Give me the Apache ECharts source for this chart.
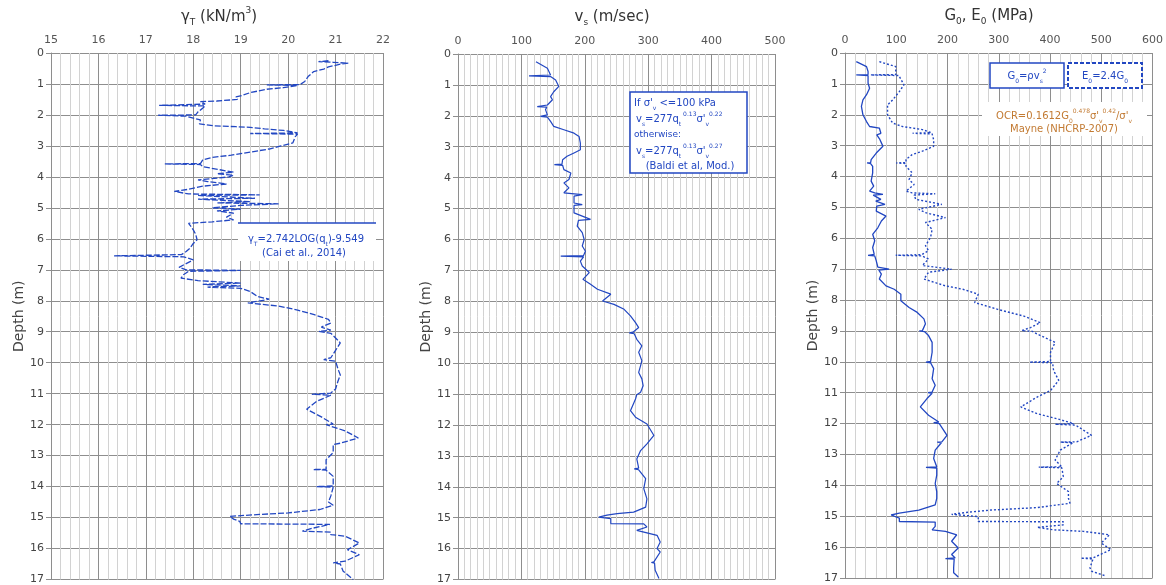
<!DOCTYPE html>
<html>
<head>
<meta charset="utf-8">
<script src="https://cdn.jsdelivr.net/npm/echarts@6/dist/echarts.min.js"></script>
<style>
  html, body { margin: 0; padding: 0; background: #fff; }
  #chart { width: 1166px; height: 585px; }
</style>
</head>
<body>
<div id="chart"></div>
<script>
// CPT-derived profiles: unit weight, shear-wave velocity and small-strain moduli versus depth

// Unit weight, gammaT (kN/m3)
const gammaDepth = [0.25,0.28,0.30,0.33,0.36,0.45,0.52,0.60,0.76,0.92,1.02,1.03,1.05,1.12,1.17,1.28,1.36,1.42,1.50,1.55,1.57,1.65,1.69,1.71,1.78,1.90,2.00,2.01,2.04,2.10,2.16,2.29,2.35,2.38,2.40,2.45,2.50,2.58,2.60,2.62,2.70,2.90,3.00,3.10,3.20,3.30,3.37,3.45,3.57,3.58,3.60,3.67,3.77,3.85,3.90,3.95,4.00,4.10,4.15,4.23,4.30,4.40,4.47,4.55,4.58,4.60,4.69,4.72,4.80,4.84,4.87,4.92,5.00,5.04,5.10,5.17,5.30,5.39,5.45,5.50,5.60,5.71,5.85,6.03,6.15,6.30,6.41,6.51,6.55,6.58,6.68,6.80,6.92,7.00,7.02,7.05,7.15,7.27,7.35,7.43,7.47,7.52,7.56,7.60,7.70,7.86,7.95,8.07,8.17,8.30,8.45,8.60,8.72,8.85,8.95,8.99,9.05,9.20,9.36,9.60,9.84,9.90,9.95,10.20,10.40,10.60,10.85,10.98,11.02,11.05,11.25,11.50,11.75,11.98,12.00,12.20,12.43,12.60,12.64,12.90,13.13,13.44,13.45,13.47,13.67,13.98,14.00,14.02,14.30,14.50,14.60,14.74,14.85,14.90,14.96,15.05,15.12,15.20,15.22,15.35,15.44,15.47,15.55,15.60,15.82,16.04,16.20,16.41,16.46,16.50,16.73,17.00];
const gammaVal = [20.85,20.64,20.95,21.27,21.10,20.85,20.75,20.54,20.42,20.35,20.25,19.55,20.20,19.90,19.55,19.20,19.05,18.90,18.93,18.50,18.15,18.25,17.28,18.25,18.20,18.10,18.05,17.26,17.85,18.00,18.15,18.13,18.42,18.90,19.20,19.50,19.90,20.20,19.20,20.20,20.15,20.10,19.85,19.60,19.20,18.80,18.40,18.20,18.15,17.40,18.15,18.20,18.56,18.85,18.50,18.85,18.75,18.10,18.30,18.70,18.20,17.90,17.60,17.90,19.40,18.10,19.30,18.10,19.20,18.50,19.80,19.00,18.40,19.00,18.50,18.85,18.70,18.85,18.40,17.90,17.95,18.00,18.05,18.08,18.00,17.93,17.85,17.75,16.33,17.80,18.00,17.85,17.70,17.85,19.00,17.90,17.80,17.74,18.10,19.00,18.20,19.00,18.30,19.00,19.20,19.35,19.60,19.15,19.80,20.20,20.55,20.85,20.90,20.70,20.90,20.65,20.90,21.00,21.10,21.00,20.90,20.75,21.00,21.05,21.10,21.05,21.00,20.90,20.50,20.90,20.60,20.39,20.70,20.95,20.80,21.20,21.48,21.10,20.95,20.95,20.80,20.80,20.53,20.80,20.95,20.95,20.60,20.95,20.90,20.85,20.95,20.67,20.00,19.40,18.77,18.85,18.98,19.00,20.88,20.50,20.30,20.90,20.90,21.20,21.50,21.25,21.50,21.20,20.95,21.10,21.16,21.37];

// Shear-wave velocity, vs (m/sec)
const vsDepth = [0.25,0.46,0.68,0.71,0.73,0.84,1.05,1.22,1.38,1.48,1.65,1.70,1.72,1.80,1.97,2.02,2.04,2.18,2.34,2.45,2.56,2.67,2.88,3.10,3.20,3.31,3.42,3.56,3.58,3.60,3.74,3.85,4.06,4.17,4.33,4.39,4.49,4.55,4.60,4.66,4.82,4.87,4.90,5.14,5.35,5.38,5.57,5.78,6.00,6.21,6.38,6.52,6.54,6.56,6.70,6.86,7.07,7.29,7.45,7.61,7.77,7.99,8.10,8.26,8.47,8.69,8.85,9.00,9.02,9.05,9.23,9.44,9.65,9.92,10.08,10.30,10.51,10.73,10.94,11.02,11.16,11.54,11.75,11.97,12.34,12.61,12.83,13.10,13.40,13.42,13.45,13.74,14.06,14.39,14.66,14.82,14.87,14.92,14.98,15.03,15.19,15.20,15.30,15.41,15.45,15.57,15.79,16.00,16.11,16.43,16.45,16.47,16.70,16.97];
const vsVal = [123,141,146,112,146,154,159,151,146,149,141,125,140,138,141,130,141,146,151,167,183,191,193,193,183,172,165,164,152,165,167,178,175,167,175,172,167,196,183,183,183,196,183,183,209,190,188,196,199,196,201,198,162,198,193,196,207,197,209,220,241,228,246,262,272,280,285,276,270,278,282,290,285,290,288,285,290,292,288,282,280,272,280,298,309,298,288,282,285,278,285,296,293,298,296,277,251,235,222,241,241,293,298,282,290,314,319,314,319,309,305,310,311,317];

// Small-strain shear modulus, G0 (MPa)
const g0Depth = [0.28,0.44,0.60,0.70,0.71,0.73,0.98,1.14,1.35,1.52,1.73,2.00,2.22,2.38,2.43,2.60,2.65,2.80,2.91,3.02,3.24,3.45,3.55,3.56,3.58,3.67,3.88,4.15,4.31,4.47,4.53,4.58,4.60,4.74,4.80,4.90,4.96,5.12,5.28,5.44,5.66,5.87,6.08,6.30,6.52,6.55,6.57,6.73,6.93,7.00,7.03,7.16,7.32,7.54,7.65,7.81,8.02,8.24,8.40,8.61,8.77,8.99,9.00,9.02,9.15,9.37,9.69,9.99,10.01,10.03,10.22,10.55,10.76,10.98,11.00,11.02,11.19,11.46,11.73,11.95,11.97,12.00,12.38,12.59,12.60,12.62,12.86,13.13,13.40,13.42,13.44,13.67,13.94,14.20,14.42,14.63,14.80,14.90,14.96,15.06,15.17,15.19,15.33,15.44,15.49,15.60,15.81,16.03,16.24,16.35,16.37,16.39,16.67,16.83,16.97];
const g0Val = [22,42,45,45,22,45,45,48,42,35,32,35,42,48,67,70,62,68,71,74,61,51,50,43,50,54,54,51,56,48,58,74,55,70,60,78,62,61,80,71,64,54,58,54,57,45,58,61,64,86,66,71,67,80,96,109,109,125,141,154,157,151,145,155,163,170,170,167,158,167,173,170,176,170,162,170,160,147,163,183,173,184,199,189,180,188,176,173,179,158,179,179,176,179,179,176,144,106,90,106,106,176,176,170,196,218,208,221,208,215,196,213,212,212,221];

// Small-strain Young's modulus, E0 (MPa)
const e0Depth = [0.28,0.44,0.70,0.71,0.73,1.03,1.25,1.52,1.68,2.00,2.27,2.38,2.48,2.58,2.60,2.62,2.81,3.02,3.18,3.29,3.45,3.55,3.56,3.58,3.67,3.88,4.10,4.26,4.47,4.53,4.56,4.60,4.74,4.90,5.06,5.17,5.33,5.49,5.71,5.97,6.24,6.40,6.53,6.55,6.57,6.67,6.88,7.00,7.10,7.32,7.54,7.65,7.81,8.08,8.30,8.52,8.73,8.89,8.99,9.01,9.10,9.37,9.69,9.99,10.01,10.03,10.28,10.60,10.93,11.14,11.46,11.68,11.84,12.00,12.02,12.05,12.38,12.59,12.60,12.62,12.86,13.18,13.40,13.41,13.43,13.72,13.94,14.20,14.42,14.58,14.72,14.80,14.87,14.94,15.01,15.17,15.18,15.28,15.36,15.44,15.49,15.60,15.87,16.08,16.35,16.36,16.38,16.67,16.78,16.94];
const e0Val = [67,99,99,50,105,115,106,93,83,83,93,112,151,168,132,170,173,173,151,131,119,119,100,119,119,131,125,135,119,131,176,135,138,189,144,157,196,157,170,167,157,163,150,99,150,163,151,208,163,154,196,230,260,253,298,349,381,362,345,365,375,410,401,401,360,405,407,417,401,375,343,375,413,446,410,450,481,452,420,445,420,410,423,378,423,426,413,436,436,439,375,285,240,208,260,260,426,426,375,407,465,516,500,519,484,460,484,478,481,510];

// Axis ranges and tick steps for the three panels
const gammaAxis = { min: 15, max: 22, step: 1, minor: 5 };
const vsAxis = { min: 0, max: 500, step: 100, minor: 10 };
const modAxis = { min: 0, max: 600, step: 100, minor: 5 };
const depthAxis = { min: 0, max: 17, step: 1 };

const pairs = (vals, depths) => vals.map((v, i) => [v, depths[i]]);

const FONT = 'DejaVu Sans';
const BLUE = '#2247c2';
const MAJOR = '#8e8e8e';
const MINOR = '#d2d2d2';
const OCR_COLOR = '#c27a32';

const grids = [
  { left: 51, top: 53, width: 332, height: 527 },
  { left: 458, top: 54, width: 317, height: 526 },
  { left: 845, top: 53, width: 312, height: 525 }
];

function makeX(idx, ax) {
  return {
    type: 'value', gridIndex: idx, position: 'top',
    min: ax.min, max: ax.max, interval: ax.step,
    axisLine: { show: false },
    axisTick: { show: false },
    axisLabel: { fontFamily: FONT, fontSize: 11, color: '#555', margin: 7 },
    splitLine: { show: true, lineStyle: { color: MAJOR, width: 1 } },
    minorTick: { show: false, splitNumber: ax.minor },
    minorSplitLine: { show: true, lineStyle: { color: MINOR, width: 1 } }
  };
}

function makeY(idx, gap) {
  return {
    type: 'value', gridIndex: idx, inverse: true,
    min: depthAxis.min, max: depthAxis.max, interval: depthAxis.step,
    name: 'Depth (m)', nameLocation: 'middle', nameGap: gap,
    nameTextStyle: { fontFamily: FONT, fontSize: 14, color: '#444' },
    axisLine: { show: true, lineStyle: { color: MAJOR } },
    axisTick: { show: true, length: 5, lineStyle: { color: MAJOR } },
    axisLabel: { fontFamily: FONT, fontSize: 11, color: '#444', margin: 7 },
    splitLine: { show: true, lineStyle: { color: MAJOR, width: 1 } }
  };
}

// rich-text styles for sub/superscripts
function richSet(size, color) {
  const small = Math.round(size * 0.62);
  return {
    n: { fontFamily: FONT, fontSize: size, color: color, lineHeight: size + 6 },
    s: { fontFamily: FONT, fontSize: small, color: color, lineHeight: small + 1, verticalAlign: 'bottom' },
    p: { fontFamily: FONT, fontSize: small, color: color, lineHeight: small + 1, verticalAlign: 'top' }
  };
}

function txt(x, y, text, size, color, align) {
  return {
    type: 'text', z: 100,
    style: {
      x: x, y: y, text: text, rich: richSet(size, color),
      fontFamily: FONT, fontSize: size, fill: color,
      align: align || 'center', verticalAlign: 'middle'
    }
  };
}

const chart = echarts.init(document.getElementById('chart'), null, { renderer: 'canvas' });

chart.setOption({
  animation: false,
  backgroundColor: '#ffffff',
  grid: grids,
  xAxis: [makeX(0, gammaAxis), makeX(1, vsAxis), makeX(2, modAxis)],
  yAxis: [makeY(0, 25), makeY(1, 22), makeY(2, 25)],
  series: [
    {
      name: 'gammaT', type: 'line', xAxisIndex: 0, yAxisIndex: 0,
      data: pairs(gammaVal, gammaDepth), showSymbol: false,
      lineStyle: { color: BLUE, width: 1.3, type: [6, 2] }
    },
    {
      name: 'vs', type: 'line', xAxisIndex: 1, yAxisIndex: 1,
      data: pairs(vsVal, vsDepth), showSymbol: false,
      lineStyle: { color: BLUE, width: 1.2 }
    },
    {
      name: 'G0', type: 'line', xAxisIndex: 2, yAxisIndex: 2,
      data: pairs(g0Val, g0Depth), showSymbol: false,
      lineStyle: { color: BLUE, width: 1.3 }
    },
    {
      name: 'E0', type: 'line', xAxisIndex: 2, yAxisIndex: 2,
      data: pairs(e0Val, e0Depth), showSymbol: false,
      lineStyle: { color: BLUE, width: 1.4, type: [2, 2] }
    }
  ],
  graphic: [
    // panel titles
    txt(219, 17, '{n|γ}{s|T}{n| (kN/m}{p|3}{n|)}', 15, '#333'),
    txt(612, 17, '{n|v}{s|s}{n| (m/sec)}', 15, '#333'),
    txt(989, 16, '{n|G}{s|0}{n|, E}{s|0}{n| (MPa)}', 15, '#333'),

    // unit-weight correlation note
    { type: 'rect', z: 99, shape: { x: 238, y: 223, width: 138, height: 38 }, style: { fill: '#fff' } },
    { type: 'line', z: 100, shape: { x1: 238, y1: 223, x2: 376, y2: 223 }, style: { stroke: BLUE, lineWidth: 1.5 } },
    txt(306, 239, '{n|γ}{s|T}{n|=2.742LOG(q}{s|t}{n|)-9.549}', 10, BLUE),
    txt(304, 253, '{n|(Cai et al., 2014)}', 10, BLUE),

    // shear-wave velocity correlation box
    { type: 'rect', z: 99, shape: { x: 630, y: 92, width: 117, height: 81 }, style: { fill: '#fff', stroke: BLUE, lineWidth: 1.5 } },
    txt(634, 103, "{n|If σ'}{s|v}{n| <=100 kPa}", 10, BLUE, 'left'),
    txt(636, 119, "{n|v}{s|s}{n|=277q}{s|t}{p| 0.13}{n|σ'}{s|v}{p|0.22}", 10, BLUE, 'left'),
    txt(634, 135, '{n|otherwise:}', 9, BLUE, 'left'),
    txt(636, 151, "{n|v}{s|s}{n|=277q}{s|t}{p| 0.13}{n|σ'}{s|v}{p|0.27}", 10, BLUE, 'left'),
    txt(690, 166, '{n|(Baldi et al, Mod.)}', 10, BLUE),

    // modulus legend
    { type: 'rect', z: 99, shape: { x: 990, y: 63, width: 74, height: 25 }, style: { fill: '#fff', stroke: BLUE, lineWidth: 1.5 } },
    { type: 'rect', z: 99, shape: { x: 1068, y: 63, width: 74, height: 25 }, style: { fill: '#fff', stroke: BLUE, lineWidth: 2, lineDash: [4, 2] } },
    txt(1027, 76, '{n|G}{s|0}{n|=ρv}{s|s}{p|2}', 10, BLUE),
    txt(1105, 76, '{n|E}{s|0}{n|=2.4G}{s|0}', 10, BLUE),

    // OCR correlation note
    { type: 'rect', z: 99, shape: { x: 982, y: 102, width: 165, height: 34 }, style: { fill: '#fff' } },
    txt(1064, 116, "{n|OCR=0.1612G}{s|0}{p|0.478}{n|σ'}{s|v}{p|0.42}{n|/σ'}{s|v}", 10, OCR_COLOR),
    txt(1064, 129, '{n|Mayne (NHCRP-2007)}', 10, OCR_COLOR)
  ]
});
</script>
</body>
</html>
